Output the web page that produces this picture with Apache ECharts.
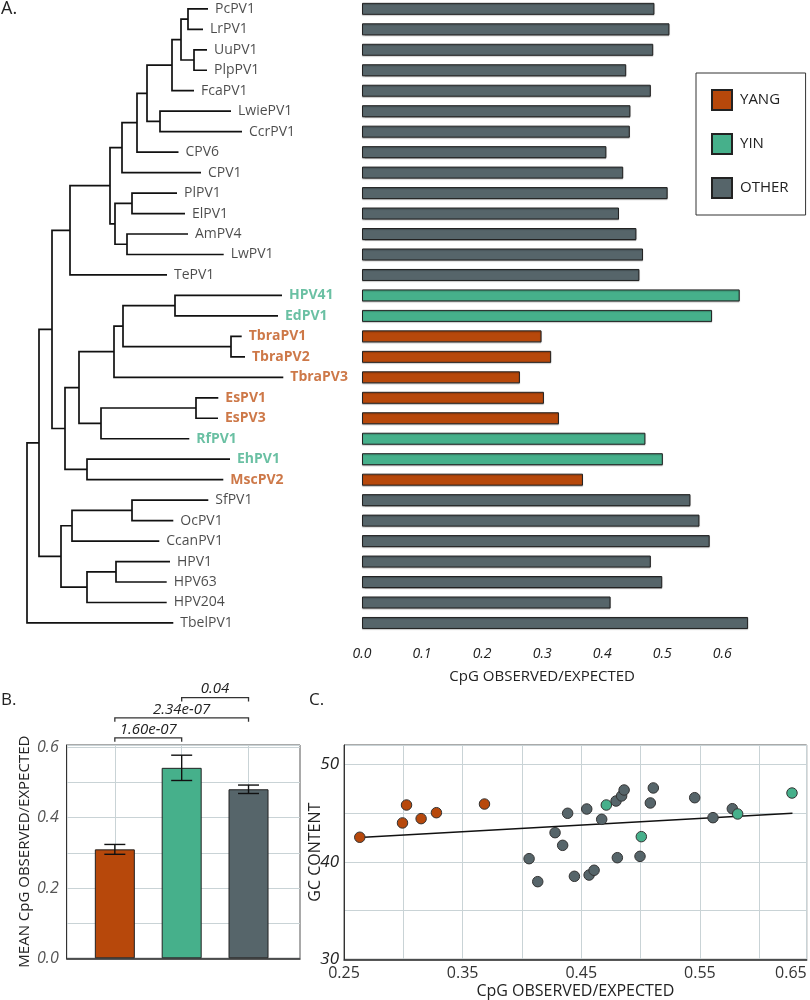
<!DOCTYPE html>
<html>
  <head>
    <meta charset="utf-8" />
    <title>CpG observed/expected across papillomaviruses</title>
    <script src="https://cdn.jsdelivr.net/npm/echarts@6.0.0/dist/echarts.min.js"></script>
    <style>
      html, body { margin: 0; padding: 0; background: #fff; }
    </style>
  </head>
  <body>
    <div id="main" style="width: 810px; height: 1000px"></div>
    <script type="text/javascript">
      // ---- panel A: leaves of the tree, top to bottom ----
      var leaves = ["PcPV1", "LrPV1", "UuPV1", "PlpPV1", "FcaPV1", "LwiePV1", "CcrPV1", "CPV6", "CPV1",
        "PlPV1", "ElPV1", "AmPV4", "LwPV1", "TePV1", "HPV41", "EdPV1", "TbraPV1", "TbraPV2", "TbraPV3",
        "EsPV1", "EsPV3", "RfPV1", "EhPV1", "MscPV2", "SfPV1", "OcPV1", "CcanPV1", "HPV1", "HPV63",
        "HPV204", "TbelPV1"];
      var leafGroup = ["OTHER", "OTHER", "OTHER", "OTHER", "OTHER", "OTHER", "OTHER", "OTHER", "OTHER",
        "OTHER", "OTHER", "OTHER", "OTHER", "OTHER", "YIN", "YIN", "YANG", "YANG", "YANG",
        "YANG", "YANG", "YIN", "YIN", "YANG", "OTHER", "OTHER", "OTHER", "OTHER", "OTHER",
        "OTHER", "OTHER"];
      var cpgRatio = [0.487, 0.512, 0.485, 0.440, 0.481, 0.447, 0.446, 0.407, 0.435,
        0.509, 0.428, 0.457, 0.468, 0.462, 0.629, 0.583, 0.299, 0.315, 0.263,
        0.303, 0.328, 0.472, 0.501, 0.368, 0.547, 0.562, 0.579, 0.481, 0.500,
        0.414, 0.643];
      // distance of each tip from the root (tree units)
      var tipDepth = [181, 176, 180, 180, 167, 204, 215, 151.5, 174,
        150, 158, 161, 196.7, 140, 255, 251, 214.7, 218, 256.3,
        191.3, 191, 162.3, 203, 196.3, 181.3, 146.3, 132.3, 143, 139.7,
        139.7, 146.3];
      // [node depth, child, child]; strings are tips
      var tree = [0,
        [12,
          [25,
            [43,
              [83,
                [95, [110, [120, [145, [154, [161, "PcPV1", "LrPV1"], [167, "UuPV1", "PlpPV1"]], "FcaPV1"],
                  [133, "LwiePV1", "CcrPV1"]], "CPV6"], "CPV1"],
                [88, [105, "PlPV1", "ElPV1"], [100, "AmPV4", "LwPV1"]]],
              "TePV1"],
            [38,
              [52,
                [87, [96, [148, "HPV41", "EdPV1"], [204, "TbraPV1", "TbraPV2"]], "TbraPV3"],
                [74, [169, "EsPV1", "EsPV3"], "RfPV1"]],
              [60, "EhPV1", "MscPV2"]]],
          [34,
            [45, [105, "SfPV1", "OcPV1"], "CcanPV1"],
            [60, [89, "HPV1", "HPV63"], "HPV204"]]],
        "TbelPV1"];

      // ---- panel B ----
      var groupNames = ["YANG", "YIN", "OTHER"];
      var groupMean = [0.310, 0.542, 0.481];
      var groupErr = [0.014, 0.036, 0.012];
      var pairs = [[1, 2], [1, 3], [2, 3]];
      var pairLevel = [0.627, 0.684, 0.742];
      var pairP = ["1.60e-07", "2.34e-07", "0.04"];

      // ---- panel C ----
      var scatterCpg = [0.2633, 0.2993, 0.3027, 0.315, 0.3279, 0.3684,
        0.406, 0.4133, 0.4385, 0.4279, 0.4343, 0.4442, 0.4546, 0.4566, 0.4608, 0.4672,
        0.4793, 0.4804, 0.484, 0.4861, 0.4995, 0.5082, 0.5107, 0.5456, 0.561, 0.5773,
        0.4711, 0.5006, 0.5818, 0.6276];
      var scatterGC = [42.53, 44.0, 45.84, 44.44, 45.05, 45.94,
        40.33, 37.97, 44.99, 43.0, 41.7, 38.52, 45.43, 38.65, 39.14, 44.37,
        46.25, 40.43, 46.77, 47.38, 40.57, 46.05, 47.59, 46.59, 44.54, 45.46,
        45.84, 42.59, 44.92, 47.07];
      var scatterGroup = ["YANG", "YANG", "YANG", "YANG", "YANG", "YANG",
        "OTHER", "OTHER", "OTHER", "OTHER", "OTHER", "OTHER", "OTHER", "OTHER", "OTHER", "OTHER",
        "OTHER", "OTHER", "OTHER", "OTHER", "OTHER", "OTHER", "OTHER", "OTHER", "OTHER", "OTHER",
        "YIN", "YIN", "YIN", "YIN"];
      var fitCpg = [0.263, 0.628];
      var fitGC = [42.5, 45.0];
      var cTickValues = [0.25, 0.35, 0.45, 0.55, 0.64];
      var cTickLabels = ["0.25", "0.35", "0.45", "0.55", "0.65"];

      var fill = { YANG: "#b7480b", YIN: "#46b08b", OTHER: "#56656a" };
      var ink = { YANG: "#c1561a", YIN: "#45b08c", OTHER: "#1e1e1e" };
      var gridLine = "#c9d3d6";

      // tree layout: tip y = row index, node y = middle of its children
      var treeSegments = [];
      function layout(node) {
        if (typeof node === "string") {
          var i = leaves.indexOf(node);
          return { x: tipDepth[i], y: i };
        }
        var kids = node.slice(1).map(layout);
        var a = kids[0], b = kids[kids.length - 1];
        treeSegments.push({ coords: [[a.x, a.y], [node[0], a.y], [node[0], b.y], [b.x, b.y]] });
        return { x: node[0], y: (a.y + b.y) / 2 };
      }
      layout(tree);

      function cLabel(v) {
        for (var i = 0; i < cTickValues.length; i++) {
          if (Math.abs(cTickValues[i] - v) < 1e-6) return cTickLabels[i];
        }
        return "";
      }

      var myChart = echarts.init(document.getElementById("main"), null, { renderer: "canvas" });

      var barSeries = groupNames.map(function (g) {
        return {
          name: g,
          type: "bar",
          xAxisIndex: 1,
          yAxisIndex: 1,
          barWidth: 12,
          barGap: "-100%",
          clip: false,
          itemStyle: {
            color: fill[g], borderColor: "#222", borderWidth: 1,
            shadowColor: "rgba(0,0,0,0.25)", shadowOffsetY: 1, shadowBlur: 1
          },
          data: cpgRatio.map(function (v, i) { return leafGroup[i] === g ? v : null; })
        };
      });

      var option = {
        animation: false,
        textStyle: { fontFamily: "Open Sans" },
        title: [
          { text: "A.", left: 1, top: 0, padding: 0, textStyle: { fontSize: 18, fontWeight: "normal", color: "#222" } },
          { text: "B.", left: 1, top: 692, padding: 0, textStyle: { fontSize: 17, fontWeight: "normal", color: "#222" } },
          { text: "C.", left: 309, top: 692, padding: 0, textStyle: { fontSize: 17, fontWeight: "normal", color: "#222" } }
        ],
        legend: {
          data: groupNames,
          orient: "vertical",
          left: 696,
          top: 73,
          padding: [16, 17, 16, 15],
          itemWidth: 20,
          itemHeight: 20,
          itemGap: 22,
          icon: "rect",
          borderColor: "#333",
          borderWidth: 1,
          textStyle: { fontSize: 15, color: "#222", padding: [0, 0, 0, 3] }
        },
        grid: [
          { left: 27, top: -1.4, width: 300, height: 634.6, outerBoundsMode: "none" },
          { left: 362, top: -1.4, width: 360.3, height: 634.6, outerBoundsMode: "none" },
          { left: 66.7, top: 745, width: 233.3, height: 213.3, show: true, borderColor: "#555", borderWidth: 1, outerBoundsMode: "none" },
          { left: 344, top: 745, width: 462.7, height: 214.3, show: true, borderColor: "#555", borderWidth: 1, outerBoundsMode: "none" }
        ],
        xAxis: [
          { gridIndex: 0, type: "value", min: 0, max: 300, show: false },
          {
            gridIndex: 1, type: "value", min: 0, max: 0.6, interval: 0.1, offset: 4.5,
            axisLine: { lineStyle: { color: "#222", width: 1 } },
            axisTick: { length: 5, lineStyle: { color: "#222" } },
            axisLabel: { margin: 9, fontSize: 14, fontStyle: "italic", color: "#222",
              formatter: function (v) { return v.toFixed(1); } },
            splitLine: { show: false },
            name: "CpG OBSERVED/EXPECTED", nameLocation: "middle", nameGap: 32, nameMoveOverlap: false,
            nameTextStyle: { fontSize: 15, color: "#222" }
          },
          {
            gridIndex: 2, type: "value", min: 0.28, max: 3.77,
            axisLine: { lineStyle: { color: "#222", width: 1.5 } },
            axisTick: { show: false, customValues: [1, 2, 3] },
            axisLabel: { show: false },
            splitLine: { show: true, lineStyle: { color: gridLine, width: 1 } }
          },
          {
            gridIndex: 3, type: "value", min: 0.25, max: 0.64, interval: 0.05,
            axisLine: { lineStyle: { color: "#222", width: 1.5 } },
            axisTick: { show: false },
            axisLabel: { show: true, margin: 6, fontSize: 16, color: "#333",
              showMinLabel: true, showMaxLabel: true, alignMaxLabel: "right",
              formatter: cLabel },
            splitLine: { show: true, lineStyle: { color: gridLine, width: 1 } },
            name: "CpG OBSERVED/EXPECTED", nameLocation: "middle", nameGap: 24, nameMoveOverlap: false,
            nameTextStyle: { fontSize: 16, color: "#222" }
          }
        ],
        yAxis: [
          { gridIndex: 0, type: "value", min: -0.5, max: 30.5, inverse: true, show: false },
          { gridIndex: 1, type: "category", data: leaves, inverse: true, show: false },
          {
            gridIndex: 2, type: "value", min: 0, max: 0.607, interval: 0.1,
            axisLine: { show: true, lineStyle: { color: "#333", width: 1 } },
            axisTick: { show: false },
            axisLabel: { customValues: [0, 0.2, 0.4, 0.6], margin: 8, fontSize: 16, fontStyle: "italic", color: "#555",
              formatter: function (v) { return v.toFixed(1); } },
            splitLine: { show: true, lineStyle: { color: gridLine, width: 1 } },
            name: "MEAN CpG OBSERVED/EXPECTED", nameLocation: "middle", nameGap: 34, nameMoveOverlap: false,
            nameTextStyle: { fontSize: 15, color: "#222" }
          },
          {
            gridIndex: 3, type: "value", min: 30, max: 52, interval: 5,
            axisLine: { show: true, lineStyle: { color: "#333", width: 1 } },
            axisTick: { show: false },
            axisLabel: { customValues: [30, 40, 50], margin: 5, fontSize: 17, fontStyle: "italic", color: "#222" },
            splitLine: { show: true, lineStyle: { color: gridLine, width: 1 } },
            name: "GC CONTENT", nameLocation: "middle", nameGap: 21, nameMoveOverlap: false,
            nameTextStyle: { fontSize: 16, color: "#222" }
          }
        ],
        series: [
          {
            type: "lines",
            coordinateSystem: "cartesian2d",
            xAxisIndex: 0,
            yAxisIndex: 0,
            polyline: true,
            silent: true,
            lineStyle: { color: "#111", width: 1.7, opacity: 1 },
            data: treeSegments
          },
          {
            type: "scatter",
            xAxisIndex: 0,
            yAxisIndex: 0,
            symbolSize: 0,
            silent: true,
            label: {
              show: true, position: "right", distance: 7, fontSize: 14,
              formatter: function (p) { return leaves[p.dataIndex]; }
            },
            data: leaves.map(function (n, i) {
              var g = leafGroup[i];
              return {
                value: [tipDepth[i], i],
                label: { color: ink[g], fontWeight: g === "OTHER" ? "normal" : "bold" }
              };
            })
          }
        ].concat(barSeries).concat([
          {
            type: "bar",
            xAxisIndex: 2,
            yAxisIndex: 2,
            barWidth: 40,
            data: groupMean.map(function (v, i) {
              return { value: [i + 1, v], itemStyle: { color: fill[groupNames[i]], borderColor: "#222", borderWidth: 1 } };
            })
          },
          {
            type: "custom",
            xAxisIndex: 2,
            yAxisIndex: 2,
            silent: true,
            z: 5,
            data: groupMean.map(function (v, i) { return [i + 1, v - groupErr[i], v + groupErr[i]]; }),
            renderItem: function (params, api) {
              var lo = api.coord([api.value(0), api.value(1)]);
              var hi = api.coord([api.value(0), api.value(2)]);
              var w = 10.5, st = { stroke: "#111", lineWidth: 1.4 };
              return {
                type: "group",
                children: [
                  { type: "line", shape: { x1: lo[0], y1: lo[1], x2: hi[0], y2: hi[1] }, style: st },
                  { type: "line", shape: { x1: lo[0] - w, y1: lo[1], x2: lo[0] + w, y2: lo[1] }, style: st },
                  { type: "line", shape: { x1: hi[0] - w, y1: hi[1], x2: hi[0] + w, y2: hi[1] }, style: st }
                ]
              };
            }
          },
          {
            type: "custom",
            xAxisIndex: 2,
            yAxisIndex: 2,
            silent: true,
            clip: false,
            data: pairs.map(function (p, i) { return [p[0], p[1], pairLevel[i]]; }),
            renderItem: function (params, api) {
              var y = api.value(2);
              var a = api.coord([api.value(0), y]);
              var b = api.coord([api.value(1), y]);
              var a0 = api.coord([api.value(0), y - 0.011]);
              var st = { stroke: "#333", lineWidth: 1.3, fill: null };
              return {
                type: "group",
                children: [
                  { type: "polyline", shape: { points: [[a[0], a0[1]], a, b, [b[0], a0[1]]] }, style: st },
                  {
                    type: "text",
                    style: {
                      x: (a[0] + b[0]) / 2, y: a[1] - 1,
                      text: pairP[params.dataIndex],
                      align: "center", verticalAlign: "bottom",
                      fontFamily: "Open Sans", fontSize: 15, fontStyle: "italic", fill: "#222"
                    }
                  }
                ]
              };
            }
          },
          {
            type: "line",
            xAxisIndex: 3,
            yAxisIndex: 3,
            symbol: "none",
            silent: true,
            z: 1,
            lineStyle: { color: "#111", width: 1.5 },
            data: fitCpg.map(function (x, i) { return [x, fitGC[i]]; })
          },
          {
            type: "scatter",
            xAxisIndex: 3,
            yAxisIndex: 3,
            symbolSize: 10.5,
            z: 3,
            data: scatterCpg.map(function (x, i) {
              return { value: [x, scatterGC[i]], itemStyle: { color: fill[scatterGroup[i]], borderColor: "#333", borderWidth: 1, opacity: 1 } };
            })
          }
        ])
      };

      myChart.setOption(option);
    </script>
  </body>
</html>
